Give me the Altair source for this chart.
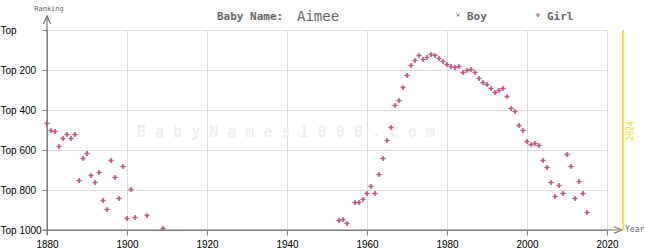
import altair as alt
import pandas as pd

# ---- data ----
girl_years = [1880, 1881, 1882, 1883, 1884, 1885, 1886, 1887, 1888, 1889,
              1890, 1891, 1892, 1893, 1894, 1895, 1896, 1897, 1898, 1899,
              1900, 1901, 1902, 1905, 1909,
              1953, 1954, 1955, 1957, 1958, 1959, 1960, 1961, 1962, 1963,
              1964, 1965, 1966, 1967, 1968, 1969, 1970, 1971, 1972, 1973,
              1974, 1975, 1976, 1977, 1978, 1979, 1980, 1981, 1982, 1983,
              1984, 1985, 1986, 1987, 1988, 1989, 1990, 1991, 1992, 1993,
              1994, 1995, 1996, 1997, 1998, 1999, 2000, 2001, 2002, 2003,
              2004, 2005, 2006, 2007, 2008, 2009, 2010, 2011, 2012, 2013,
              2014, 2015]
girl_ranks = [467, 502, 507, 582, 542, 522, 542, 522, 752, 642,
              617, 727, 762, 712, 852, 897, 652, 737, 842, 682,
              942, 797, 937, 927, 992,
              952, 947, 967, 862, 862, 847, 817, 782, 817, 722,
              642, 552, 487, 377, 352, 287, 227, 177, 152, 127,
              147, 137, 122, 127, 142, 157, 172, 182, 187, 182,
              212, 202, 197, 212, 242, 262, 272, 292, 312, 302,
              292, 332, 392, 407, 477, 502, 557, 572, 567, 577,
              652, 687, 762, 832, 777, 817, 622, 682, 842, 757,
              817, 912]
x_ticks = [1880, 1900, 1920, 1940, 1960, 1980, 2000, 2020]
y_ticks = [0, 200, 400, 600, 800, 1000]
title_prefix = "Baby Name:"
name = "Aimee"
series_names = ["Boy", "Girl"]
watermark = "B a b y N a m e s 1 0 0 0 . c o m"
year_mark = "2024"

FONT = "DejaVu Sans Mono"
GREY = "#666666"
AXIS = "#777777"
GIRL = "#c0507a"
BOY = "#8090b0"
YELLOW = "#f2d31a"

girl_df = pd.DataFrame({"year": girl_years, "rank": girl_ranks})
one = pd.DataFrame({"t": [""]})


def txt(text, x, y, size=8, color=GREY, weight="normal", align="left",
        baseline="middle", angle=0):
    return alt.Chart(pd.DataFrame({"t": [text]})).mark_text(
        font=FONT, fontSize=size, color=color, fontWeight=weight,
        align=align, baseline=baseline, angle=angle
    ).encode(x=alt.value(x), y=alt.value(y), text="t:N")


x_enc = alt.X("year:Q",
              scale=alt.Scale(domain=[1880, 2020], nice=False, zero=False),
              axis=alt.Axis(values=x_ticks, format="d", title=None,
                            grid=True, labelPadding=4, labelFlush=False))
y_enc = alt.Y("rank:Q",
              scale=alt.Scale(domain=[0, 1000], reverse=True, nice=False),
              axis=alt.Axis(values=y_ticks, title=None, grid=True,
                            labelAlign="left", labelPadding=42,
                            labelBaseline="middle",
                            labelExpr="datum.value == 0 ? 'Top' : 'Top ' + datum.value"))

wm = txt(watermark, 239, 102, size=15, color="#eeeeee", weight="bold",
         align="center")

points = alt.Chart(girl_df).mark_point(
    shape="M-1,0H1M0,-1V1", size=25, strokeWidth=1.5, color=GIRL,
    filled=False, opacity=1
).encode(x=x_enc, y=y_enc)

x_line = alt.Chart(one).mark_rule(color=AXIS, strokeWidth=1.2).encode(
    x=alt.value(-4), x2=alt.value(574), y=alt.value(200))
y_line = alt.Chart(one).mark_rule(color=AXIS, strokeWidth=1.2).encode(
    x=alt.value(0), y=alt.value(-14), y2=alt.value(205))
x_arrow = alt.Chart(one).mark_point(
    shape="M-1,-0.8L1,0L-1,0.8", size=64, filled=False, color=AXIS,
    strokeWidth=1.2, opacity=1).encode(x=alt.value(571), y=alt.value(200))
y_arrow = alt.Chart(one).mark_point(
    shape="M-0.9,1L0,-1L0.9,1", size=64, filled=False, color=AXIS,
    strokeWidth=1.2, opacity=1).encode(x=alt.value(0), y=alt.value(-10))

yellow = alt.Chart(one).mark_rule(color=YELLOW, strokeWidth=1.5).encode(
    x=alt.value(576), y=alt.value(0), y2=alt.value(200))

boy_sym = alt.Chart(one).mark_point(
    shape="M-1,-1L1,1M1,-1L-1,1", size=9, filled=False, color=BOY,
    strokeWidth=1, opacity=1).encode(x=alt.value(411), y=alt.value(-15))
girl_sym = alt.Chart(one).mark_point(
    shape="M-1,0H1M0,-1V1", size=16, filled=False, color=GIRL,
    strokeWidth=1.2, opacity=1).encode(x=alt.value(491), y=alt.value(-15))

layers = [
    wm, points, x_line, y_line, x_arrow, y_arrow, yellow,
    txt(title_prefix, 170, -13, size=11, weight="bold"),
    txt(name, 250, -13, size=14),
    boy_sym, txt(series_names[0], 420, -13, size=11, weight="bold"),
    girl_sym, txt(series_names[1], 500, -13, size=11, weight="bold"),
    txt("Ranking", 2, -21, size=7, align="center"),
    txt("Year", 578, 200, size=8),
    txt(year_mark, 584, 101, size=8, color=YELLOW, align="center", angle=270),
]

chart = alt.layer(*layers).properties(
    width=560, height=200,
    autosize=alt.AutoSizeParams(type="none"),
    padding={"left": 47, "top": 30, "right": 38, "bottom": 20},
).configure_view(stroke=None).configure_axis(
    labelFont=FONT, labelFontSize=8, labelColor=GREY,
    gridColor="#dddddd", gridWidth=1.2, domain=False, ticks=False,
).configure(background="white")

chart.save("out.html", embed_options={"renderer": "svg", "actions": False})
